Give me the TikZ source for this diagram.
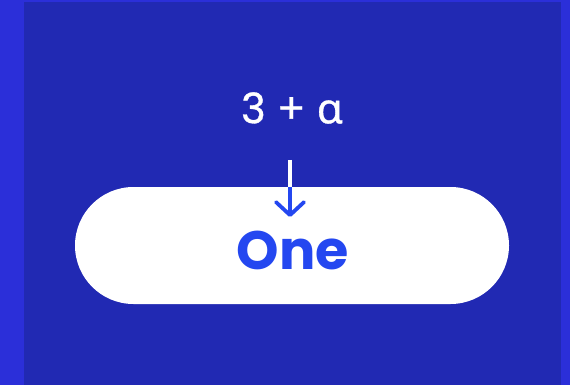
\documentclass[tikz,border=0pt]{standalone}
\usepackage{fontspec}
\setmainfont{Poppins}
\newfontfamily\sumfont{Poppins}[FakeBold=0.8]
\newfontfamily\greekfont{Noto Sans}[FakeBold=0.8]
\usetikzlibrary{positioning,arrows.meta,calc}
\definecolor{outerblue}{HTML}{2B2FD9}
\definecolor{panelblue}{HTML}{2129B3}
\definecolor{inkblue}{HTML}{2447F0}

\begin{document}
\begin{tikzpicture}[x=1pt,y=-1pt,>={Straight Barb[length=13pt,width=28pt,line cap=round,line join=round]},
  pillbox/.style={fill=white,rounded corners=58.5pt,minimum width=434pt,minimum height=117pt,inner sep=0pt},
  every node/.style={inner sep=0pt}]
% background
\fill[outerblue] (0,0) rectangle (570,385);
\fill[panelblue] (24,2) rectangle (561,385);
\useasboundingbox (0,0) rectangle (570,385);
\node[pillbox] (pill) at (292,245.5) {};
\node[font=\fontsize{42}{46}\selectfont\sumfont,text=white] (sum) at (292,108) {3 + {\greekfont α}};
\node[font=\fontsize{54}{58}\selectfont\bfseries,text=inkblue] (word) at ($(pill.center)+(1,5)$) {One};
\coordinate (tip) at (290,217);
\draw[white,line width=3.8pt] (sum.south -| tip) ++(0,36) coordinate (start) -- (pill.north -| tip);
\draw[->,inkblue,line width=3.8pt] (pill.north -| tip) -- (tip);
\end{tikzpicture}
\end{document}
